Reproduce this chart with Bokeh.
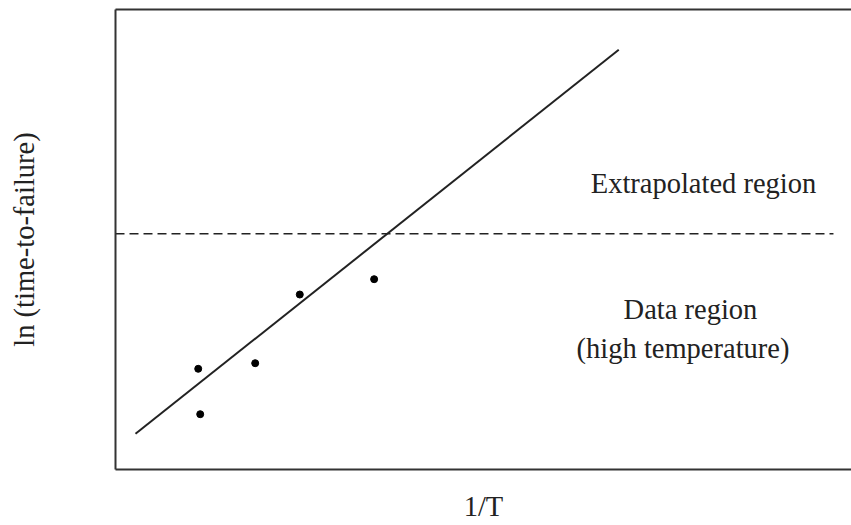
from bokeh.plotting import figure
from bokeh.models import LinearAxis, FixedTicker, Range1d
from bokeh.core.properties import value
from bokeh.embed import file_html
from bokeh.resources import INLINE

# Data (arbitrary units: 1/T on x, ln(time-to-failure) on y)
pts_x = [1.124, 1.151, 1.898, 2.504, 3.514]
pts_y = [2.189, 1.202, 2.311, 3.804, 4.137]
fit_x = [0.272, 6.838]
fit_y = [0.776, 9.124]
boundary_y = 5.124
boundary_x = [0.0, 9.755]

label_texts = ["Extrapolated region", "Data region", "(high temperature)"]
label_x = [7.989, 7.812, 7.711]
label_y = [6.211, 3.472, 2.624]

x_title = "1/T"
y_title = "ln (time-to-failure)"

FONT = "Liberation Serif"
INK = "#222222"

p = figure(width=851, height=525, output_backend="svg", toolbar_location=None,
           x_range=Range1d(0, 10), y_range=Range1d(0, 10),
           x_axis_location=None, y_axis_location=None,
           min_border_left=115, min_border_right=0, min_border_top=9, min_border_bottom=56)
p.outline_line_color = None
p.grid.visible = False
p.background_fill_color = "white"
p.border_fill_color = "white"

def make_axis(label=None, standoff=0):
    ax = LinearAxis(ticker=FixedTicker(ticks=[]))
    ax.axis_line_color = "#333333"
    ax.axis_line_width = 2
    ax.major_tick_line_color = None
    ax.minor_tick_line_color = None
    ax.major_tick_out = 0
    ax.major_tick_in = 0
    ax.major_label_standoff = 0
    if label:
        ax.axis_label = label
        ax.axis_label_text_font = FONT
        ax.axis_label_text_font_size = "28.5px"
        ax.axis_label_text_font_style = "normal"
        ax.axis_label_text_color = INK
        ax.axis_label_standoff = standoff
    return ax

p.add_layout(make_axis(y_title, 76), "left")
p.add_layout(make_axis(x_title, 21), "below")
p.add_layout(make_axis(), "above")

p.line(boundary_x, [boundary_y, boundary_y], line_color=INK, line_width=1.5, line_dash="9 5")
p.line(fit_x, fit_y, line_color=INK, line_width=2)
p.scatter(pts_x, pts_y, size=7, color="black")

p.text(x=label_x, y=label_y, text=label_texts, text_font=value(FONT), text_font_size="28.5px",
       text_color=INK, text_align="center", text_baseline="alphabetic")

open("out.html", "w").write(file_html(p, INLINE))
